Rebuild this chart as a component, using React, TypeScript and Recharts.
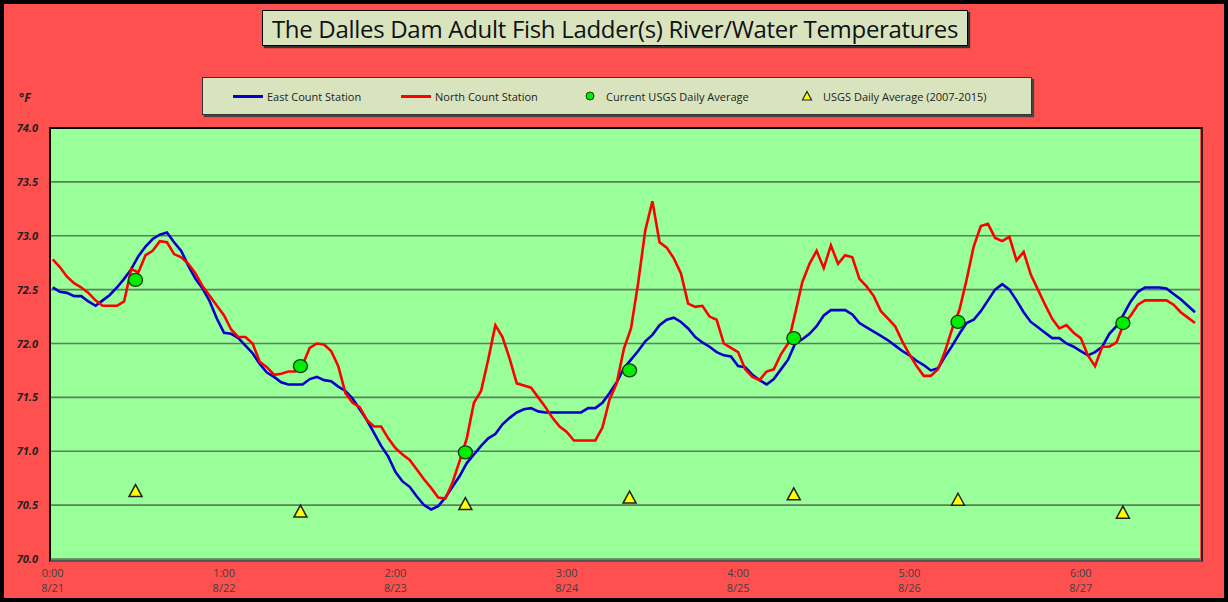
import { CartesianGrid, ComposedChart, Line, Scatter, XAxis, YAxis } from "recharts";

// hourly readings starting 8/21 0:00
const eastStation = [
  72.52, 72.48, 72.47, 72.44, 72.44, 72.39, 72.35, 72.4, 72.45, 72.52,
  72.6, 72.69, 72.81, 72.9, 72.97, 73.01, 73.03, 72.94, 72.86, 72.72,
  72.6, 72.51, 72.39, 72.23, 72.1, 72.09, 72.05, 71.98, 71.91, 71.81,
  71.73, 71.69, 71.64, 71.62, 71.62, 71.62, 71.67, 71.69, 71.66, 71.65,
  71.6, 71.56, 71.49, 71.39, 71.29, 71.17, 71.05, 70.95, 70.81, 70.72,
  70.67, 70.58, 70.5, 70.46, 70.49, 70.57, 70.67, 70.77, 70.89, 70.97,
  71.05, 71.12, 71.16, 71.25, 71.31, 71.36, 71.39, 71.4, 71.37, 71.36,
  71.36, 71.36, 71.36, 71.36, 71.36, 71.4, 71.4, 71.45, 71.54, 71.64,
  71.77, 71.85, 71.93, 72.02, 72.08, 72.17, 72.22, 72.24, 72.2, 72.14,
  72.06, 72.01, 71.97, 71.92, 71.89, 71.88, 71.79, 71.78, 71.71, 71.66,
  71.62, 71.67, 71.76, 71.85, 72.0, 72.04, 72.09, 72.16, 72.26, 72.31,
  72.31, 72.31, 72.27, 72.19, 72.15, 72.11, 72.07, 72.03, 71.98, 71.93,
  71.89, 71.84, 71.8, 71.75, 71.77, 71.88, 71.98, 72.09, 72.19, 72.22,
  72.3, 72.4, 72.5, 72.55, 72.5, 72.4, 72.29, 72.2, 72.15, 72.1,
  72.05, 72.05, 72.0, 71.97, 71.93, 71.89, 71.92, 71.97, 72.09, 72.16,
  72.27, 72.39, 72.48, 72.52, 72.52, 72.52, 72.51, 72.46, 72.41, 72.35,
  72.29,
];

const northStation = [
  72.78, 72.71, 72.62, 72.56, 72.52, 72.47, 72.4, 72.35, 72.35, 72.35,
  72.39, 72.69, 72.66, 72.82, 72.86, 72.95, 72.94, 72.83, 72.8, 72.74,
  72.65, 72.53, 72.44, 72.35, 72.26, 72.13, 72.06, 72.06, 72.0, 71.83,
  71.78, 71.71, 71.72, 71.74, 71.74, 71.8, 71.96, 72.0, 71.99, 71.93,
  71.79, 71.54, 71.45, 71.41, 71.29, 71.23, 71.23, 71.12, 71.03, 70.97,
  70.92, 70.83, 70.74, 70.66, 70.57, 70.56, 70.71, 70.91, 71.12, 71.45,
  71.56, 71.85, 72.17, 72.06, 71.86, 71.63, 71.61, 71.59, 71.5, 71.41,
  71.31, 71.23, 71.18, 71.1, 71.1, 71.1, 71.1, 71.22, 71.48, 71.63,
  71.95, 72.14, 72.56, 73.05, 73.32, 72.94, 72.89, 72.79, 72.65, 72.37,
  72.34, 72.35, 72.25, 72.22, 72.0, 71.96, 71.92, 71.76, 71.69, 71.66,
  71.74, 71.76, 71.9, 72.0, 72.28, 72.57, 72.74, 72.86, 72.7, 72.91,
  72.74, 72.82, 72.8, 72.6, 72.53, 72.44, 72.3, 72.23, 72.16, 72.02,
  71.9, 71.79, 71.7, 71.7, 71.76, 71.93, 72.14, 72.31, 72.59, 72.9,
  73.09, 73.11, 72.98, 72.95, 72.99, 72.77, 72.85, 72.64, 72.5, 72.36,
  72.23, 72.14, 72.17, 72.1, 72.05, 71.89, 71.79, 71.97, 71.97, 72.01,
  72.18, 72.26, 72.36, 72.4, 72.4, 72.4, 72.4, 72.36, 72.29, 72.24,
  72.19,
];

// daily USGS points (hour position, value)
const usgsHours = [11.6, 34.7, 57.8, 80.8, 103.8, 126.8, 149.9];
const usgsCurrent = [72.59, 71.79, 70.99, 71.75, 72.05, 72.2, 72.19];
const usgsHistoric = [70.63, 70.44, 70.51, 70.57, 70.6, 70.55, 70.43];

const tickHours = [0, 24, 48, 72, 96, 120, 144];
const timeLabels = ["0:00", "1:00", "2:00", "3:00", "4:00", "5:00", "6:00"];
const dateLabels = ["8/21", "8/22", "8/23", "8/24", "8/25", "8/26", "8/27"];
const yTicks = [70, 70.5, 71, 71.5, 72, 72.5, 73, 73.5, 74];

const data = eastStation.map((v, i) => ({ h: i, east: v, north: northStation[i] }));
const currentData = usgsHours.map((h, i) => ({ h, v: usgsCurrent[i] }));
const historicData = usgsHours.map((h, i) => ({ h, v: usgsHistoric[i] }));

const font = "'Open Sans', 'Noto Sans', sans-serif";
const boxBg = "#D9E4BF";

const Dot = (p: any) => (
  <ellipse cx={p.cx} cy={p.cy} rx={7} ry={6.5} fill="#00EE00" stroke="#1a3a1a" strokeWidth={1.3} />
);

const Tri = (p: any) => (
  <polygon
    points={`${p.cx},${p.cy - 6.5} ${p.cx + 6.5},${p.cy + 5.5} ${p.cx - 6.5},${p.cy + 5.5}`}
    fill="#FFFF00"
    stroke="#222"
    strokeWidth={1.5}
  />
);

const XTick = (p: any) => {
  const i = tickHours.indexOf(p.payload.value);
  return (
    <g>
      <text x={p.x} y={577} textAnchor="middle" fontSize={11} fill="#404040" fontFamily={font}>
        {timeLabels[i]}
      </text>
      <text x={p.x} y={592} textAnchor="middle" fontSize={11} fill="#404040" fontFamily={font}>
        {dateLabels[i]}
      </text>
    </g>
  );
};

const YTick = (p: any) => (
  <text
    x={38}
    y={p.y + 4}
    textAnchor="end"
    fontSize={11}
    fontWeight="bold"
    fontStyle="italic"
    fill="#222"
    fontFamily={font}
  >
    {p.payload.value.toFixed(1)}
  </text>
);

function LegendItem({ kind, label, left }: { kind: string; label: string; left: number }) {
  let mark;
  if (kind === "east" || kind === "north") {
    mark = (
      <div style={{ width: 30, height: 3, background: kind === "east" ? "#0000CC" : "#FF0000", marginRight: 4 }} />
    );
  } else if (kind === "dot") {
    mark = (
      <svg width={18} height={12} style={{ marginRight: 6 }}>
        <ellipse cx={8} cy={6} rx={4} ry={4} fill="#00EE00" stroke="#1a3a1a" strokeWidth={1} />
      </svg>
    );
  } else {
    mark = (
      <svg width={18} height={12} style={{ marginRight: 6 }}>
        <polygon points="8,1.5 12.5,10 3.5,10" fill="#FFFF00" stroke="#222" strokeWidth={1.2} />
      </svg>
    );
  }
  return (
    <div style={{ position: "absolute", left, top: 0, height: 36, display: "flex", alignItems: "center" }}>
      {mark}
      <span style={{ fontSize: 11, color: "#222", fontFamily: font }}>{label}</span>
    </div>
  );
}

export default function App() {
  return (
    <div style={{ position: "absolute", left: 0, top: 0, width: 1228, height: 602, background: "#FF5050" }}>
      <ComposedChart width={1228} height={602} data={data} margin={{ top: 128, right: 28, bottom: 13, left: 5 }}>
        <CartesianGrid vertical={false} fill="#99FF99" stroke="#5E7E5E" strokeWidth={1.6} />
        <XAxis
          type="number"
          dataKey="h"
          domain={[-0.38, 160.7]}
          ticks={tickHours}
          tick={<XTick />}
          tickLine={false}
          axisLine={false}
          height={30}
          allowDataOverflow
        />
        <YAxis
          type="number"
          domain={[70, 74]}
          ticks={yTicks}
          width={45}
          tick={<YTick />}
          tickLine={false}
          axisLine={false}
        />
        <Line dataKey="east" stroke="#0000CC" strokeWidth={2.6} dot={false} isAnimationActive={false} />
        <Line dataKey="north" stroke="#FF0000" strokeWidth={2.6} dot={false} isAnimationActive={false} />
        <Scatter data={currentData} dataKey="v" shape={<Dot />} isAnimationActive={false} />
        <Scatter data={historicData} dataKey="v" shape={<Tri />} isAnimationActive={false} />
      </ComposedChart>

      <div
        style={{
          position: "absolute",
          left: 49,
          top: 127,
          width: 1150,
          height: 431,
          borderTop: "2px solid #000",
          borderLeft: "2px solid #000",
          borderRight: "2px solid #222",
          borderBottom: "2px solid #555",
          pointerEvents: "none",
        }}
      />

      <div
        style={{
          position: "absolute",
          left: 262,
          top: 10,
          width: 704,
          height: 34,
          background: boxBg,
          border: "1px solid #000",
          boxShadow: "2px 2px 1px #333",
          display: "flex",
          alignItems: "center",
          justifyContent: "center",
          fontFamily: font,
          fontSize: 24,
          color: "#111",
          letterSpacing: -0.3,
        }}
      >
        The Dalles Dam Adult Fish Ladder(s) River/Water Temperatures
      </div>

      <div
        style={{
          position: "absolute",
          left: 202,
          top: 77,
          width: 828,
          height: 36,
          background: boxBg,
          border: "1px solid #333",
          boxShadow: "2px 2px 1px #444",
        }}
      >
        <LegendItem kind="east" label="East Count Station" left={30} />
        <LegendItem kind="north" label="North Count Station" left={198} />
        <LegendItem kind="dot" label="Current USGS Daily Average" left={379} />
        <LegendItem kind="tri" label="USGS Daily Average (2007-2015)" left={596} />
      </div>

      <div
        style={{
          position: "absolute",
          left: 19,
          top: 89,
          fontFamily: font,
          fontSize: 12,
          fontWeight: "bold",
          fontStyle: "italic",
          color: "#222",
        }}
      >
        °F
      </div>

      <div
        style={{
          position: "absolute",
          left: 0,
          top: 0,
          width: 1228,
          height: 602,
          boxSizing: "border-box",
          border: "4px solid #000",
          pointerEvents: "none",
        }}
      />
    </div>
  );
}
